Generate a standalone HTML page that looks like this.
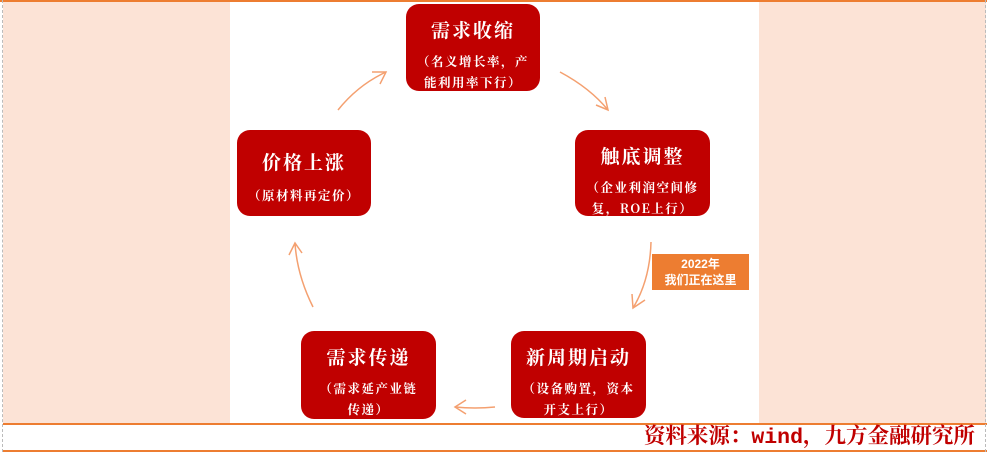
<!DOCTYPE html>
<html><head><meta charset="utf-8"><style>
html,body{margin:0;padding:0;background:#fff}
body{width:987px;height:452px;position:relative;overflow:hidden;font-family:"Liberation Sans","Noto Sans CJK SC",sans-serif}
.p{position:absolute;background:#fce3d6}
.b{position:absolute;background:#c00000;border-radius:13px;color:#fff;text-align:center;font-family:"Noto Serif CJK SC","Noto Sans CJK SC",serif}
.t{font-size:19px;font-weight:bold;letter-spacing:2px}
.s{font-size:12.5px;font-weight:bold;letter-spacing:1.5px;line-height:21px}
</style></head><body>
<div class="p" style="left:3px;top:0;width:227px;height:423px"></div>
<div class="p" style="left:759px;top:0;width:227px;height:423px"></div>
<div style="position:absolute;left:0;top:0;width:987px;height:2px;background:#ed7d31"></div>
<div style="position:absolute;left:3px;top:423px;width:984px;height:2px;background:#ed7d31"></div>
<div style="position:absolute;left:3px;top:450px;width:984px;height:2px;background:#ed7d31"></div>
<div style="position:absolute;left:2px;top:0;width:0;height:452px;border-left:1px dashed #bbb"></div>
<div style="position:absolute;left:985px;top:0;width:0;height:452px;border-left:1px dashed #bbb"></div>

<div class="b" style="left:406px;top:4px;width:134px;height:87px"><div class="t" style="margin-top:12px">需求收缩</div><div class="s" style="margin-top:8px">（名义增长率，产<br>能利用率下行）</div></div>
<div class="b" style="left:575px;top:130px;width:135px;height:86px"><div class="t" style="margin-top:12px">触底调整</div><div class="s" style="margin-top:8px">（企业利润空间修<br>复，ROE上行）</div></div>
<div class="b" style="left:511px;top:331px;width:135px;height:87px"><div class="t" style="margin-top:12px">新周期启动</div><div class="s" style="margin-top:8px">（设备购置，资本<br>开支上行）</div></div>
<div class="b" style="left:301px;top:331px;width:135px;height:88px"><div class="t" style="margin-top:12px">需求传递</div><div class="s" style="margin-top:8px">（需求延产业链<br>传递）</div></div>
<div class="b" style="left:237px;top:130px;width:134px;height:86px"><div class="t" style="margin-top:18px">价格上涨</div><div class="s" style="margin-top:10px">（原材料再定价）</div></div>

<div style="position:absolute;left:652px;top:254px;width:97px;height:36px;background:#ed7d31;color:#fff;font-weight:bold;font-size:12px;text-align:center;line-height:16px;padding-top:2px;box-sizing:border-box">2022年<br>我们正在这里</div>

<svg style="position:absolute;left:0;top:0" width="987" height="452" fill="none" stroke="#f4a070" stroke-width="1.5">
<path d="M560,72 Q590,88 608,110"/><path d="M596,105 L608,110 L605,97"/>
<path d="M651,242 Q650,280 633,308"/><path d="M632,294 L633,308 L645,300"/>
<path d="M495,407 Q475,409 455,407"/><path d="M466,400 L455,407 L466,414"/>
<path d="M313,307 Q297,275 295,243"/><path d="M289,255 L295,243 L302,253"/>
<path d="M338,110 Q358,85 386,72"/><path d="M372,72 L386,72 L380,84"/>
</svg>

<div style="position:absolute;right:12px;top:425px;color:#c00000;font-size:21.5px;font-family:'Liberation Mono','Noto Serif CJK SC',monospace;line-height:26px;font-weight:bold">资料来源：wind，九方金融研究所</div>
</body></html>
